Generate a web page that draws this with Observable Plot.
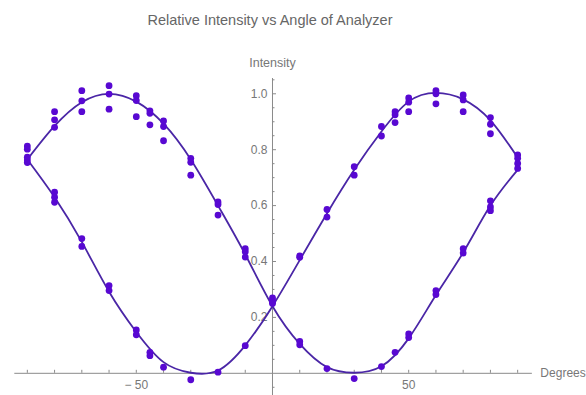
<!DOCTYPE html>
<html>
<head>
<meta charset="utf-8">
<script src="https://cdn.jsdelivr.net/npm/d3@7"></script>
<script src="https://cdn.jsdelivr.net/npm/@observablehq/plot@0.6"></script>
<style>
  html, body { margin: 0; padding: 0; background: #fff; }
  #wrap { position: relative; width: 586px; height: 395px; overflow: hidden; }
  #title {
    position: absolute; left: 0; top: 0; width: 540px; height: 40px;
    line-height: 40px; text-align: center;
    font-family: "Liberation Sans", Arial, sans-serif; font-size: 14.5px; color: #666;
  }
  #chart { position: absolute; left: 0; top: 40px; }
</style>
</head>
<body>
<div id="wrap">
  <div id="title">Relative Intensity vs Angle of Analyzer</div>
  <div id="chart"></div>
</div>
<script>
// Analyzer angles (degrees) where the fitted curves are sampled
const fitAngles = [-90, -80, -70, -60, -50, -40, -30, -20, -10, 0, 10, 20, 30, 40, 50, 60, 70, 80, 90];
// Fitted intensity, first polarizer setting (maximum near -60°)
const fitA = [0.765, 0.885, 0.970, 1.000, 0.972, 0.893, 0.765, 0.600, 0.425, 0.240, 0.105, 0.022, 0.002, 0.025, 0.125, 0.280, 0.432, 0.600, 0.728];
// Fitted intensity, second polarizer setting (maximum near +60°)
const fitB = [0.765, 0.630, 0.470, 0.292, 0.148, 0.040, 0.002, 0.010, 0.100, 0.240, 0.405, 0.572, 0.728, 0.865, 0.972, 1.003, 0.980, 0.905, 0.772];

// Measured intensities: [angle, repeated readings]
const readingsA = [
  [-90, [0.813, 0.773, 0.763]],
  [-80, [0.936, 0.907, 0.880]],
  [-70, [1.011, 0.975, 0.936]],
  [-60, [1.029, 0.999, 0.945]],
  [-50, [0.993, 0.976, 0.918]],
  [-45, [0.939, 0.930, 0.889]],
  [-40, [0.903, 0.883, 0.832]],
  [-30, [0.769, 0.755, 0.709]],
  [-20, [0.613, 0.604, 0.566]],
  [-10, [0.446, 0.435, 0.416]],
  [0, [0.270, 0.254]],
  [10, [0.114, 0.102]],
  [20, [0.017]],
  [30, [-0.019]],
  [40, [0.024]],
  [45, [0.075]],
  [50, [0.141, 0.128]],
  [60, [0.296, 0.282]],
  [70, [0.446, 0.430]],
  [80, [0.617, 0.595, 0.582]],
  [90, [0.751, 0.733]]
];
const readingsB = [
  [-90, [0.802, 0.754]],
  [-80, [0.648, 0.630, 0.612]],
  [-70, [0.482, 0.454]],
  [-60, [0.314, 0.296]],
  [-50, [0.155, 0.138]],
  [-45, [0.075, 0.063]],
  [-40, [0.022]],
  [-30, [-0.023]],
  [-20, [0.004]],
  [-10, [0.099]],
  [0, [0.262, 0.250]],
  [10, [0.420, 0.415]],
  [20, [0.586, 0.559]],
  [30, [0.739, 0.709]],
  [40, [0.883, 0.849]],
  [45, [0.936, 0.925, 0.897]],
  [50, [0.985, 0.970, 0.936]],
  [60, [1.011, 1.000, 0.964]],
  [70, [0.996, 0.978, 0.936]],
  [80, [0.915, 0.891, 0.857]],
  [90, [0.781, 0.769]]
];

// Axis ticks and labels
const xMinorTicks = [-90, -80, -70, -60, -50, -40, -30, -20, -10, 10, 20, 30, 40, 50, 60, 70, 80, 90];
const xLabelValues = [-50, 50];
const xLabels = ["\u2212 50", "50"];
const yMinorTicks = [-0.05, 0.05, 0.1, 0.15, 0.25, 0.3, 0.35, 0.45, 0.5, 0.55, 0.65, 0.7, 0.75, 0.85, 0.9, 0.95, 1.05];
const yMajorTicks = [0.2, 0.4, 0.6, 0.8, 1.0];
const yLabels = ["0.2", "0.4", "0.6", "0.8", "1.0"];

// Extent of the drawn axes
const xAxisExtent = [-94.6, 95.4];
const xDomain = [-99.85, 115.27];
const yDomain = [-0.0794, 1.0547];

const curveA = fitAngles.map((a, i) => ({angle: a, value: fitA[i]}));
const curveB = fitAngles.map((a, i) => ({angle: a, value: fitB[i]}));
const flatten = (rows) => rows.flatMap(([a, vs]) => vs.map((v) => ({angle: a, value: v})));
const dotsA = flatten(readingsA);
const dotsB = flatten(readingsB);

const axisColor = "#8a8a8a";
const labelColor = "#777";
const lineColor = "#4a26a6";
const dotColor = "#5808d2";
const font = "'Liberation Sans', Arial, sans-serif";

const chart = Plot.plot({
  width: 586,
  height: 355,
  marginTop: 38,
  marginBottom: 0,
  marginLeft: 0,
  marginRight: 0,
  style: {fontFamily: font, background: "transparent", overflow: "visible"},
  x: {domain: xDomain, axis: null},
  y: {domain: yDomain, axis: null},
  marks: [
    // axes through the origin
    Plot.ruleY([0], {x1: xAxisExtent[0], x2: xAxisExtent[1], stroke: axisColor, strokeWidth: 1}),
    Plot.ruleX([0], {y1: yDomain[0], y2: yDomain[1], stroke: axisColor, strokeWidth: 1}),
    Plot.ruleX(xMinorTicks, {x: (d) => d, y1: 0, y2: 0, insetTop: -3, insetBottom: 0, stroke: axisColor}),
    Plot.ruleY(yMinorTicks, {y: (d) => d, x1: 0, x2: 0, insetLeft: 0, insetRight: -2.5, stroke: axisColor}),
    Plot.ruleY(yMajorTicks, {y: (d) => d, x1: 0, x2: 0, insetLeft: 0, insetRight: -4, stroke: axisColor}),
    Plot.text(xLabelValues, {x: (d) => d, y: 0, dy: 12, text: (d, i) => xLabels[i], fill: labelColor, fontSize: 12}),
    Plot.text(yMajorTicks, {x: 0, y: (d) => d, dx: -5, textAnchor: "end", text: (d, i) => yLabels[i], fill: labelColor, fontSize: 12}),
    Plot.text(["Intensity"], {x: 0, y: yDomain[1], dy: -16, text: (d) => d, fill: labelColor, fontSize: 12.5}),
    Plot.text(["Degrees"], {x: xAxisExtent[1], y: 0, dx: 8, textAnchor: "start", text: (d) => d, fill: labelColor, fontSize: 12}),
    // fitted curves
    Plot.line(curveA, {x: "angle", y: "value", curve: "natural", stroke: lineColor, strokeWidth: 1.8}),
    Plot.line(curveB, {x: "angle", y: "value", curve: "natural", stroke: lineColor, strokeWidth: 1.8}),
    // measurements
    Plot.dot(dotsA, {x: "angle", y: "value", r: 3.4, fill: dotColor, stroke: "none"}),
    Plot.dot(dotsB, {x: "angle", y: "value", r: 3.4, fill: dotColor, stroke: "none"})
  ]
});
document.getElementById("chart").appendChild(chart);
</script>
</body>
</html>
